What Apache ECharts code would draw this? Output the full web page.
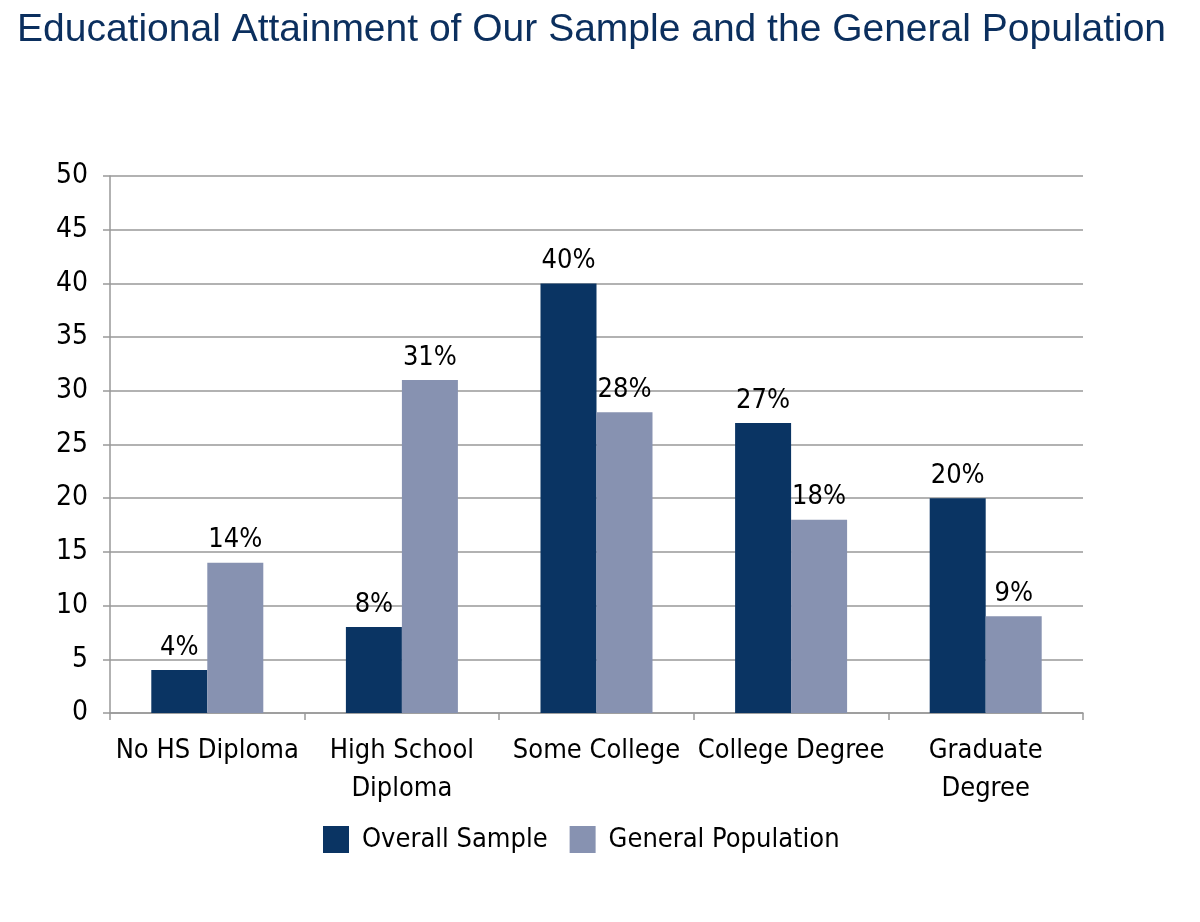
<!DOCTYPE html>
<html><head><meta charset="utf-8">
<script src="https://cdn.jsdelivr.net/npm/echarts@6/dist/echarts.min.js"></script>
<style>html,body{margin:0;padding:0;background:#fff}#c{width:1200px;height:922px}</style>
</head><body><div id="c"></div>
<script>
const categories = ['No HS Diploma', 'High School\nDiploma', 'Some College', 'College Degree', 'Graduate\nDegree'];
const overallSample = [4, 8, 40, 27, 20];
const generalPopulation = [14, 31, 28, 18, 9];
const yTicks = [0, 5, 10, 15, 20, 25, 30, 35, 40, 45, 50];
const seriesNames = ['Overall Sample', 'General Population'];

const narrow = '"Liberation Sans Narrow","DejaVu Sans Condensed","Roboto Condensed",sans-serif';
const chart = echarts.init(document.getElementById('c'));
chart.setOption({
  animation: false,
  backgroundColor: '#fff',
  title: {
    text: 'Educational Attainment of Our Sample and the General Population',
    left: 12, top: 6,
    textStyle: { fontFamily: '"Liberation Sans",Arial,sans-serif', fontWeight: 'normal', fontSize: 39, color: '#0b2f5e' }
  },
  legend: {
    data: seriesNames,
    bottom: 64, left: 318,
    itemWidth: 26, itemHeight: 27, itemGap: 22,
    textStyle: { fontFamily: narrow, fontSize: 27, color: '#000', padding: [0, 0, 0, 8] },
    icon: 'rect'
  },
  grid: { left: 110, right: 117, top: 176, bottom: 209 },
  xAxis: {
    type: 'category', data: categories,
    axisLine: { lineStyle: { color: '#999', width: 1.5 } },
    axisTick: { show: true, length: 7, lineStyle: { color: '#999', width: 1.5 } },
    axisLabel: { fontFamily: narrow, fontSize: 27, color: '#000', margin: 19, lineHeight: 38, interval: 0 }
  },
  yAxis: {
    type: 'value', min: 0, max: 50, interval: 5,
    axisLine: { show: true, lineStyle: { color: '#999', width: 1.5 } },
    axisTick: { show: true, length: 7, lineStyle: { color: '#999', width: 1.5 } },
    splitLine: { lineStyle: { color: '#999', width: 1.5 } },
    axisLabel: { fontFamily: narrow, fontSize: 28, color: '#000', margin: 22,
      formatter: v => yTicks.includes(v) ? String(v) : '' }
  },
  series: [
    { name: seriesNames[0], type: 'bar', data: overallSample, barWidth: 56, barGap: '0%',
      itemStyle: { color: '#0a3463' },
      label: { show: true, position: 'top', distance: 9, formatter: p => p.value + '%', fontFamily: narrow, fontSize: 27, color: '#000' } },
    { name: seriesNames[1], type: 'bar', data: generalPopulation, barWidth: 56, barGap: '0%',
      itemStyle: { color: '#8792b1' },
      label: { show: true, position: 'top', distance: 9, formatter: p => p.value + '%', fontFamily: narrow, fontSize: 27, color: '#000' } }
  ]
});
</script></body></html>
